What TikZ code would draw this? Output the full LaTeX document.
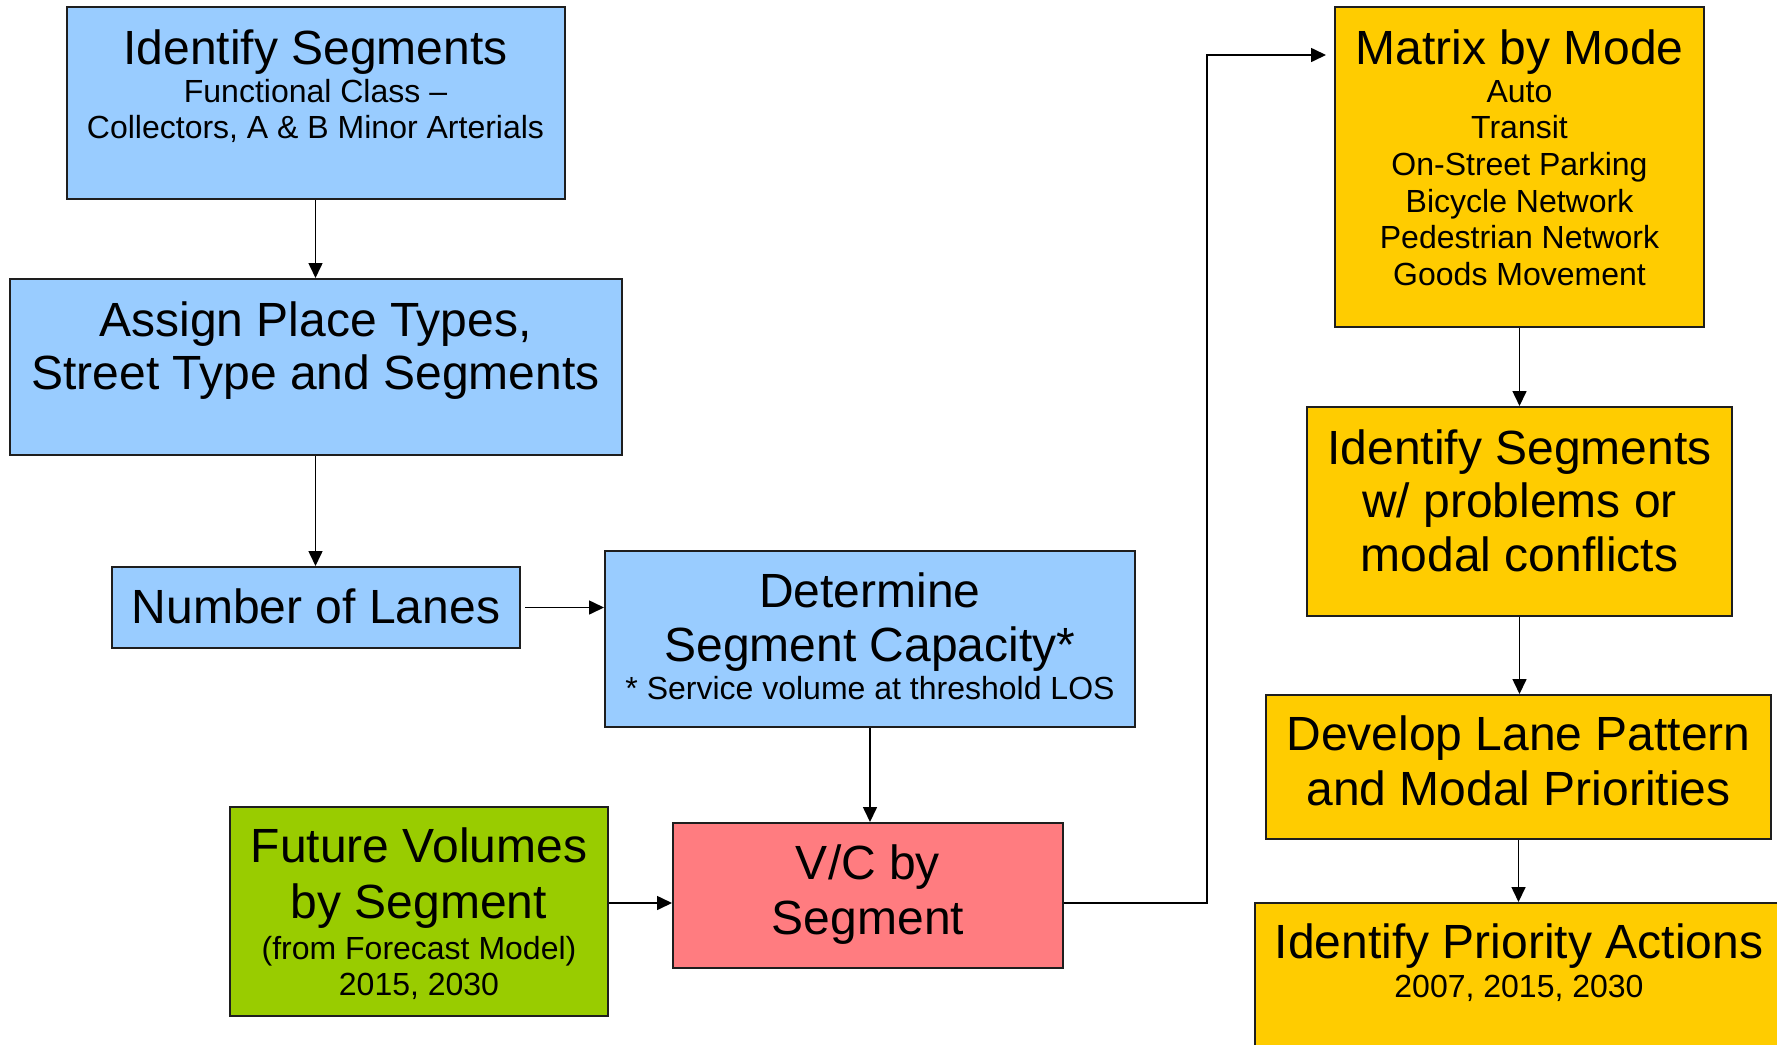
\documentclass[tikz,border=0pt]{standalone}
\usepackage{fontspec}
\setmainfont{Liberation Sans}
\usetikzlibrary{arrows.meta,positioning,calc}
\definecolor{planblue}{RGB}{153,204,255}
\definecolor{plangreen}{RGB}{153,204,0}
\definecolor{planred}{RGB}{255,124,128}
\definecolor{planorange}{RGB}{255,204,0}
\definecolor{edgegray}{RGB}{30,30,30}

\begin{document}
\begin{tikzpicture}[x=1pt, y=-1pt, >={Triangle[length=15pt,width=14pt]}]

  \tikzset{
    stepbox/.style={draw=edgegray, line width=2pt, fill=#1, rectangle,
                    inner sep=0pt},
    bigtxt/.style={font=\fontsize{48}{55}\selectfont, anchor=base, inner sep=0pt},
    smalltxt/.style={font=\fontsize{32}{36}\selectfont, anchor=base, inner sep=0pt},
    flow/.style={->, line width=1.6pt}
  }

  \useasboundingbox (0,0) rectangle (1777,1044);
  \clip (0,0) rectangle (1777,1044);

  % Left column (blue)
  \node[stepbox=planblue, minimum width=498pt, minimum height=192pt]
    (idseg) at (315.5,103) {};
  \node[stepbox=planblue, minimum width=612pt, minimum height=176pt]
    (assign) at (315.5,367) {};
  \node[stepbox=planblue, minimum width=408pt, minimum height=81pt]
    (lanes) at (316,607.5) {};
  \node[stepbox=planblue, minimum width=530pt, minimum height=176pt]
    (capacity) at (870,639) {};

  % Volumes and V/C
  \node[stepbox=plangreen, minimum width=378pt, minimum height=209pt]
    (future) at (419,911.5) {};
  \node[stepbox=planred, minimum width=390pt, minimum height=145pt]
    (vc) at (868,895.5) {};

  % Right column (orange)
  \node[stepbox=planorange, minimum width=369pt, minimum height=320pt]
    (matrix) at (1519.5,167) {};
  \node[stepbox=planorange, minimum width=425pt, minimum height=209pt]
    (problems) at (1519.5,511.5) {};
  \node[stepbox=planorange, minimum width=505pt, minimum height=144pt]
    (pattern) at (1518.5,767) {};
  \node[stepbox=planorange, minimum width=528pt, minimum height=172pt]
    (actions) at (1519,989) {};

  % Box texts
  \node[bigtxt]   (idsegA) at (315.5,64) {Identify Segments};
  \node[smalltxt] (idsegB) at (315.5,102) {Functional Class –};
  \node[smalltxt] (idsegC) at (315.5,138) {Collectors, A \& B Minor Arterials};

  \node[bigtxt] (assignA) at (315.5,336) {Assign Place Types,};
  \node[bigtxt] (assignB) at (315.5,389) {Street Type and Segments};

  \node[bigtxt] (lanesA) at (316,623) {Number of Lanes};

  \node[bigtxt]   (capacityA) at (870,607) {Determine};
  \node[bigtxt]   (capacityB) at (870,661) {Segment Capacity*};
  \node[smalltxt] (capacityC) at (870,699) {* Service volume at threshold LOS};

  \node[bigtxt]   (futureA) at (419,862) {Future Volumes};
  \node[bigtxt]   (futureB) at (419,918) {by Segment};
  \node[smalltxt] (futureC) at (419,959) {(from Forecast Model)};
  \node[smalltxt] (futureD) at (419,995) {2015, 2030};

  \node[bigtxt] (vcA) at (868,879) {V/C by};
  \node[bigtxt] (vcB) at (868,934) {Segment};

  \node[bigtxt] (matrixA) at (1519.5,64) {Matrix by Mode};
  \foreach \mode [count=\i from 0] in
      {Auto, Transit, On-Street Parking, Bicycle Network,
       Pedestrian Network, Goods Movement}
    \node[smalltxt] (mode\i) at (1519.5,102+36.7*\i) {\mode};

  \node[bigtxt] (problemsA) at (1519.5,464) {Identify Segments};
  \node[bigtxt] (problemsB) at (1519.5,517) {w/ problems or};
  \node[bigtxt] (problemsC) at (1519.5,571) {modal conflicts};

  \node[bigtxt] (patternA) at (1518.5,750) {Develop Lane Pattern};
  \node[bigtxt] (patternB) at (1518.5,805) {and Modal Priorities};

  \node[bigtxt]   (actionsA) at (1519,958) {Identify Priority Actions};
  \node[smalltxt] (actionsB) at (1519,997) {2007, 2015, 2030};

  % Connectors
  \coordinate (vcin) at ($(vc.west)+(0,7.5)$);
  \coordinate (bend) at (1207,903);
  \coordinate (matin) at (matrix.west |- 0,55);

  \draw[flow] (idseg.south) -- (assign.north);
  \draw[flow] (assign.south) -- (assign.south |- lanes.north);
  \draw[flow, shorten <=4pt] (lanes.east) -- (lanes.east -| capacity.west);
  \draw[flow] (capacity.south) -- (capacity.south |- vc.north);
  \draw[flow] (future.east |- vcin) -- (vcin);
  \draw[flow, shorten >=8pt] (vc.east |- vcin) -- (bend) |- (matin);
  \draw[flow] (matrix.south) -- (problems.north);
  \draw[flow] (problems.south) -- (problems.south |- pattern.north);
  \draw[flow] (pattern.south) -- (pattern.south |- actions.north);

\end{tikzpicture}
\end{document}
